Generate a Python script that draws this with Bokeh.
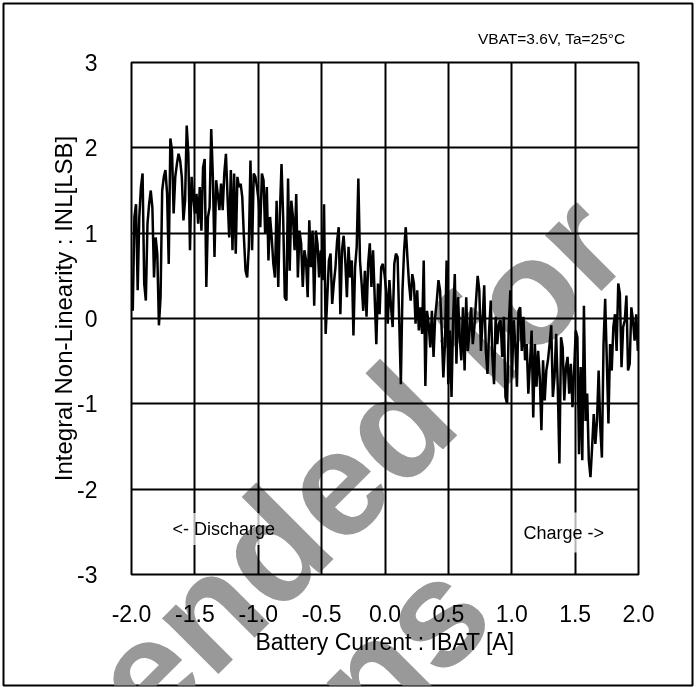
import numpy as np
from bokeh.plotting import figure
from bokeh.layouts import column
from bokeh.models import Range1d, FixedTicker, PrintfTickFormatter, Label, ColumnDataSource
from bokeh.embed import file_html
from bokeh.resources import INLINE

# INL readings [LSB], sampled left to right across the current sweep
inl_a = [0.09, 1.19, 1.34, 0.33, 1.19, 1.54, 1.70, 0.41, 0.21, 1.11,
         1.34, 1.50, 1.30, 0.48, 0.95, 0.76, -0.08, 0.25, 1.50, 1.66,
         1.74, 1.46, 0.64, 2.11, 1.97, 1.23, 1.66, 1.81, 1.93, 1.85,
         1.66, 1.15, 1.38, 2.26, 1.93, 0.80, 1.66, 1.42, 1.23, 1.46,
         1.11, 1.54, 1.03, 1.77, 1.87, 0.37, 1.19, 1.30, 2.22, 1.66,
         0.72, 1.62, 1.46, 1.27, 1.58, 1.27, 1.70, 1.93, 1.42, 0.95,
         1.74, 0.80, 1.70, 0.76, 1.66, 1.54, 1.58, 1.42, 0.95, 0.56,
         0.48, 0.84, 1.85, 0.80, 1.70, 1.66, 1.54]
inl_b = [1.38, 1.07, 1.70, 1.62, 0.99, 1.54, 0.68, 1.19, 0.95, 0.64,
         0.48, 1.38, 0.37, 1.23, 1.81, 1.19, 0.25, 0.21, 1.64, 0.56,
         1.38, 1.19, 0.80, 1.46, 0.48, 1.03, 0.88, 0.37, 0.80, 0.68,
         0.25, 1.15, 0.60, 1.03, 0.15, 1.03, 0.88, 0.48, 0.80, 0.45,
         1.34, -0.18, 0.25, 0.68, 0.76, 0.17, 0.41, 0.60, 0.91, 1.07,
         0.05, 0.80, 0.97, 0.68, 0.25, 0.84, 0.48, 0.68, -0.20, 0.60,
         0.84, 1.64, 0.68, 0.41, 0.09, 0.56, 0.02, 0.64, 0.88, 0.37,
         0.80, 0.25, -0.30, 0.41, 0.05, 0.60, 0.64]
inl_c = [0.52, 0.33, -0.06, 0.45, 0.13, -0.10, 0.64, 0.76, 0.72, -0.02,
         -0.77, 0.33, 0.80, 1.07, 0.72, 0.41, 0.21, 0.52, 0.41, -0.06,
         0.33, -0.14, 0.13, -0.18, 0.68, -0.79, 0.09, -0.06, -0.34, 0.09,
         -0.45, 0.02, 0.21, 0.45, 0.33, -0.14, -0.69, -0.30, 0.68, -0.77,
         -0.14, -0.92, 0.02, 0.52, -0.53, 0.25, -0.22, -0.49, 0.13, -0.61,
         0.25, -0.38, -0.14, 0.13, -0.30, -0.10, 0.21, 0.50, 0.33, -0.38,
         -0.02, 0.39, -0.38, -0.65, -0.14, 0.21, -0.45, -0.77, 0.02, -0.30,
         -0.06, -0.02, -0.45, 0.02, -0.92, -1.00]
inl_d = [-0.10, 0.33, -0.69, -0.02, -0.30, -0.80, 0.09, 0.13, -0.38, 0.02,
         -0.49, -0.30, -0.88, -0.53, -0.14, -1.16, -0.30, -0.80, -0.38, -0.69,
         -1.31, -0.49, -0.96, -0.61, -0.49, -0.30, -0.08, -0.92, -0.69, -0.18,
         -0.80, -1.70, -0.22, -0.34, -0.96, -0.57, -0.45, -0.88, -0.53, -1.04,
         -0.61, -0.14, -0.22, -1.59, -0.57, -1.66, 0.15, -1.20, -0.88, -1.66,
         -1.86, -1.51, -1.12, -1.47, -1.20, -0.61, -1.27, -1.63, -0.30, 0.23,
         -0.49, -1.23, -0.30, -0.61, -0.10, 0.05, -0.38, 0.41, 0.29, -0.57,
         -0.10, -0.02, 0.27, -0.61, -0.53, 0.13, -0.02, -0.26, 0.05, -0.38]

inl = inl_a + inl_b + inl_c + inl_d
ibat_start, ibat_end = -1.99, 1.995
ibat = np.linspace(ibat_start, ibat_end, len(inl))

x_ticks = [-2.0, -1.5, -1.0, -0.5, 0.0, 0.5, 1.0, 1.5, 2.0]
y_ticks = [-3, -2, -1, 0, 1, 2, 3]
X0, X1, Y0, Y1 = -2.0, 2.0, -3.0, 3.0

# ---- page layout (pixels) ----
W, H = 696, 687
FL, FR, FT, FB = 131, 638, 62, 574          # plot frame
BL, BT, BR, BB = 3, 3, 692, 685             # outer box
FONT = "Liberation Sans"

ux = (FR - FL) / (X1 - X0)
uy = (FB - FT) / (Y1 - Y0)
def dx(px):
    return X0 + (px - FL) / ux
def dy(py):
    return Y1 - (py - FT) / uy

# ---- chart layer ----
p = figure(width=W, height=H, x_range=Range1d(X0, X1), y_range=Range1d(Y0, Y1),
           output_backend="svg", toolbar_location=None,
           min_border_left=FL, min_border_right=W - FR, min_border_top=FT, min_border_bottom=H - FB)
p.background_fill_color = "white"
p.border_fill_color = "white"
p.outline_line_color = "black"
p.outline_line_width = 2

for ax in (p.xaxis, p.yaxis):
    ax.axis_line_color = None
    ax.major_tick_line_color = None
    ax.minor_tick_line_color = None
    ax.major_label_text_font = FONT
    ax.major_label_text_font_size = "23px"
    ax.major_label_text_color = "black"
    ax.axis_label_text_font = FONT
    ax.axis_label_text_font_style = "normal"
    ax.axis_label_text_font_size = "23px"
    ax.axis_label_text_color = "black"

p.xaxis.ticker = FixedTicker(ticks=x_ticks)
p.xaxis.formatter = PrintfTickFormatter(format="%.1f")
p.xaxis.major_label_standoff = 24
p.xaxis.axis_label = "Battery Current : IBAT [A]"
p.xaxis.axis_label_standoff = 4

p.yaxis.ticker = FixedTicker(ticks=y_ticks)
p.yaxis.formatter = PrintfTickFormatter(format="%d")
p.yaxis.major_label_standoff = 28

p.xgrid.ticker = FixedTicker(ticks=x_ticks)
p.ygrid.ticker = FixedTicker(ticks=y_ticks)
for g in (p.xgrid, p.ygrid):
    g.grid_line_color = "black"
    g.grid_line_width = 2
    g.grid_line_alpha = 1.0

src = ColumnDataSource(dict(ibat=ibat, inl=inl))
p.line("ibat", "inl", source=src, line_color="black", line_width=2.5)

box_style = dict(text_align="left", text_baseline="alphabetic", text_font=FONT,
                 text_font_size="18px", text_color="black",
                 background_fill_color="white", background_fill_alpha=0.7)
p.add_layout(Label(x=dx(166), y=dy(528.5), text="<- Discharge", padding=6, **box_style))
p.add_layout(Label(x=dx(513), y=dy(532), text="Charge ->", padding=10, **box_style))

# ---- watermark / frame layer, multiplied over the chart like a PDF stamp ----
wm = figure(width=W, height=H, x_range=Range1d(dx(BL), dx(BR)), y_range=Range1d(dy(BB), dy(BT)),
            x_axis_type=None, y_axis_type=None, output_backend="svg", toolbar_location=None,
            min_border_left=BL, min_border_top=BT, min_border_right=W - BR, min_border_bottom=H - BB,
            margin=(-H, 0, 0, 0), styles={"mix-blend-mode": "multiply"})
wm.background_fill_color = None
wm.border_fill_color = None
wm.outline_line_color = "black"
wm.outline_line_width = 2
wm.grid.visible = False

for fig in (p, wm):
    if "frame_align" in fig.properties():
        fig.frame_align = False

wm_style = dict(text_font=FONT, text_font_style="bold", text_font_size="150px",
                text_color="#999999", angle=np.pi / 4, text_align="right",
                text_baseline="alphabetic")
wm.add_layout(Label(x=dx(598), y=dy(220), text="Not Recommended for", **wm_style))
wm.add_layout(Label(x=dx(462), y=dy(585), text="New Designs", **wm_style))

wm.add_layout(Label(x=dx(63), y=dy(308), text="Integral Non-Linearity : INL[LSB]",
                    angle=np.pi / 2, text_align="center", text_baseline="middle",
                    text_font=FONT, text_font_size="24px", text_color="black"))
wm.add_layout(Label(x=dx(625), y=dy(37.5), text="VBAT=3.6V, Ta=25°C", text_align="right",
                    text_baseline="alphabetic", text_font=FONT, text_font_size="15.5px",
                    text_color="black"))

page = column(p, wm, spacing=0)
open("out.html", "w").write(file_html(page, INLINE))
